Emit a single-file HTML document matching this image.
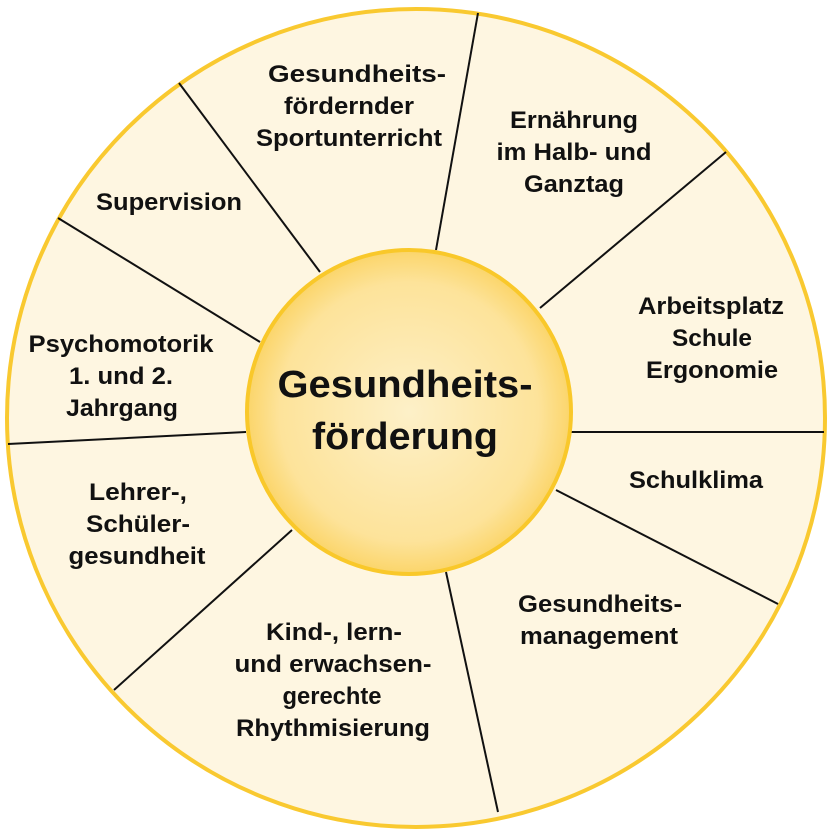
<!DOCTYPE html>
<html><head><meta charset="utf-8"><style>
body{margin:0;background:#fff}
</style></head><body>
<svg width="832" height="832" viewBox="0 0 832 832" xmlns="http://www.w3.org/2000/svg" font-family="Liberation Sans, Arial, Helvetica, sans-serif" font-weight="bold">
<defs><radialGradient id="g" cx="50%" cy="50%" r="50%">
<stop offset="0" stop-color="#fdf0c8"/><stop offset="0.8" stop-color="#fde39a"/><stop offset="1" stop-color="#fbd56a"/></radialGradient></defs>
<circle cx="416" cy="418" r="409" fill="#fef6e1" stroke="#f9c930" stroke-width="4"/>
<g stroke="#111" stroke-width="2">
<line x1="320" y1="272" x2="179" y2="83"/>
<line x1="436" y1="250" x2="478" y2="13"/>
<line x1="540" y1="308" x2="726" y2="152"/>
<line x1="570" y1="432" x2="824" y2="432"/>
<line x1="556" y1="490" x2="778" y2="604"/>
<line x1="446" y1="572" x2="498" y2="812"/>
<line x1="292" y1="530" x2="114" y2="690"/>
<line x1="246" y1="432" x2="8" y2="444"/>
<line x1="260" y1="342" x2="58" y2="218"/>
</g>
<circle cx="409" cy="412" r="162" fill="url(#g)" stroke="#f9c82a" stroke-width="4"/>
<g fill="#111" text-anchor="middle" font-family="Liberation Sans, Arial, Helvetica, sans-serif" font-weight="bold">
<text x="405" y="397" font-size="38" textLength="255" lengthAdjust="spacingAndGlyphs">Gesundheits-</text>
<text x="405" y="449" font-size="38" textLength="186" lengthAdjust="spacingAndGlyphs">förderung</text>
<g font-size="24">
<text x="357" y="82" textLength="178" lengthAdjust="spacingAndGlyphs">Gesundheits-</text>
<text x="349" y="114" textLength="130" lengthAdjust="spacingAndGlyphs">fördernder</text>
<text x="349" y="146" textLength="186" lengthAdjust="spacingAndGlyphs">Sportunterricht</text>
<text x="574" y="128" textLength="128" lengthAdjust="spacingAndGlyphs">Ernährung</text>
<text x="574" y="160" textLength="155" lengthAdjust="spacingAndGlyphs">im Halb- und</text>
<text x="574" y="192" textLength="100" lengthAdjust="spacingAndGlyphs">Ganztag</text>
<text x="169" y="210" textLength="146" lengthAdjust="spacingAndGlyphs">Supervision</text>
<text x="711" y="314" textLength="146" lengthAdjust="spacingAndGlyphs">Arbeitsplatz</text>
<text x="712" y="346" textLength="80" lengthAdjust="spacingAndGlyphs">Schule</text>
<text x="712" y="378" textLength="132" lengthAdjust="spacingAndGlyphs">Ergonomie</text>
<text x="121" y="352" textLength="185" lengthAdjust="spacingAndGlyphs">Psychomotorik</text>
<text x="121" y="384" textLength="104" lengthAdjust="spacingAndGlyphs">1. und 2.</text>
<text x="122" y="416" textLength="112" lengthAdjust="spacingAndGlyphs">Jahrgang</text>
<text x="696" y="488" textLength="134" lengthAdjust="spacingAndGlyphs">Schulklima</text>
<text x="138" y="500" textLength="98" lengthAdjust="spacingAndGlyphs">Lehrer-,</text>
<text x="138" y="532" textLength="104" lengthAdjust="spacingAndGlyphs">Schüler-</text>
<text x="137" y="564" textLength="137" lengthAdjust="spacingAndGlyphs">gesundheit</text>
<text x="600" y="612" textLength="164" lengthAdjust="spacingAndGlyphs">Gesundheits-</text>
<text x="599" y="644" textLength="158" lengthAdjust="spacingAndGlyphs">management</text>
<text x="334" y="640" textLength="136" lengthAdjust="spacingAndGlyphs">Kind-, lern-</text>
<text x="333" y="672" textLength="197" lengthAdjust="spacingAndGlyphs">und erwachsen-</text>
<text x="332" y="704" textLength="99" lengthAdjust="spacingAndGlyphs">gerechte</text>
<text x="333" y="736" textLength="194" lengthAdjust="spacingAndGlyphs">Rhythmisierung</text>
</g></g>
</svg>
</body></html>
